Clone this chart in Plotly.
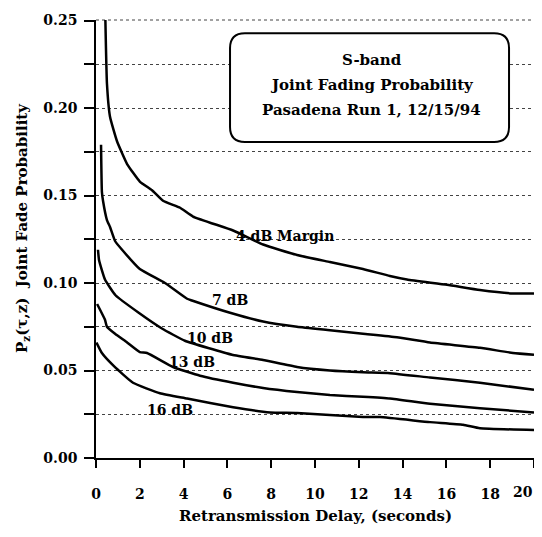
import plotly.graph_objects as go

# ---- data ----
x_4db = [0.41, 0.50, 0.64, 0.96, 1.42, 2.0, 2.56, 3.06, 3.84, 4.43, 6.26, 7.63, 9.18, 10.68, 12.19, 13.42, 14.2, 16.03, 17.53, 19.04, 20.0]
y_4db = [0.262, 0.214, 0.195, 0.181, 0.168, 0.158, 0.153, 0.147, 0.143, 0.138, 0.130, 0.122, 0.116, 0.112, 0.108, 0.104, 0.102, 0.099, 0.096, 0.094, 0.094]

x_7db = [0.23, 0.27, 0.32, 0.50, 0.64, 0.87, 1.19, 2.0, 3.15, 4.16, 4.38, 6.12, 7.63, 9.18, 10.68, 12.19, 13.74, 15.25, 17.53, 19.04, 20.0]
y_7db = [0.179, 0.152, 0.147, 0.136, 0.132, 0.124, 0.119, 0.108, 0.100, 0.091, 0.090, 0.083, 0.078, 0.075, 0.073, 0.071, 0.069, 0.066, 0.063, 0.060, 0.059]

x_10db = [0.09, 0.14, 0.41, 0.89, 1.95, 3.01, 4.06, 6.21, 7.63, 9.18, 10.68, 12.19, 13.42, 15.25, 17.53, 20.0]
y_10db = [0.119, 0.113, 0.102, 0.093, 0.083, 0.074, 0.067, 0.059, 0.056, 0.052, 0.050, 0.049, 0.0485, 0.046, 0.043, 0.039]

x_13db = [0.05, 0.41, 0.50, 0.87, 1.42, 2.0, 2.33, 3.52, 4.75, 6.26, 7.63, 9.18, 10.68, 12.19, 13.42, 15.25, 17.53, 20.0]
y_13db = [0.088, 0.079, 0.075, 0.071, 0.066, 0.0605, 0.060, 0.052, 0.047, 0.043, 0.040, 0.0377, 0.036, 0.035, 0.034, 0.031, 0.0285, 0.026]

x_16db = [0.02, 0.27, 0.82, 1.69, 2.92, 4.16, 6.26, 7.95, 9.18, 12.19, 12.97, 15.25, 16.76, 17.53, 20.0]
y_16db = [0.066, 0.060, 0.0525, 0.043, 0.037, 0.034, 0.029, 0.026, 0.0257, 0.0234, 0.0234, 0.0205, 0.019, 0.017, 0.016]

series = [
    ("4 dB Margin", x_4db, y_4db),
    ("7 dB", x_7db, y_7db),
    ("10 dB", x_10db, y_10db),
    ("13 dB", x_13db, y_13db),
    ("16 dB", x_16db, y_16db),
]

# curve label anchor positions (data units)
label_x = [8.63, 6.12, 5.21, 4.38, 3.38]
label_y = [0.1267, 0.0902, 0.0685, 0.0548, 0.0274]

x_ticks = [0, 2, 4, 6, 8, 10, 12, 14, 16, 18, 20]
x_tick_text = ["0", "2", "4", "6", "8", "10", "12", "14", "16", "18", ""]
last_x_tick = "20"
y_ticks = [0.00, 0.05, 0.10, 0.15, 0.20, 0.25]
y_tick_text = ["0.00", "0.05", "0.10", "0.15", "0.20", "0.25"]

box_lines = ["S-band", "Joint Fading Probability", "Pasadena Run 1, 12/15/94"]

FONT = "DejaVu Serif"

fig = go.Figure()
for name, xs, ys in series:
    fig.add_trace(go.Scatter(x=xs, y=ys, mode="lines", name=name,
                             line=dict(color="black", width=2.5, shape="spline", smoothing=0.4),
                             showlegend=False))

for (name, _, _), lx, ly in zip(series, label_x, label_y):
    fig.add_annotation(x=lx, y=ly, xref="x", yref="y", text=name, showarrow=False,
                       font=dict(family=FONT, size=14, color="black", weight="bold"))

# last x tick label drawn as an annotation, kept inside the visible page
fig.add_annotation(x=x_ticks[-1], y=-0.078, xref="x", yref="paper", text=last_x_tick,
                   showarrow=False, xanchor="right", xshift=1, yanchor="middle",
                   font=dict(family=FONT, size=14, color="black", weight="bold"))

# dotted top border line (0.25 level)
fig.add_shape(type="line", xref="paper", yref="paper", x0=0, x1=1, y0=1, y1=1,
              line=dict(color="#444", width=1, dash="dot"), layer="below")

# rounded box (paper coordinates; plot area is square)
x0, x1, y0, y1, r = 0.306, 0.943, 0.7215, 0.970, 0.034
path = (f"M {x0+r},{y0} L {x1-r},{y0} Q {x1},{y0} {x1},{y0+r} "
        f"L {x1},{y1-r} Q {x1},{y1} {x1-r},{y1} L {x0+r},{y1} "
        f"Q {x0},{y1} {x0},{y1-r} L {x0},{y0+r} Q {x0},{y0} {x0+r},{y0} Z")
fig.add_shape(type="path", path=path, xref="paper", yref="paper",
              line=dict(color="black", width=2), fillcolor="white", layer="above")

for i, t in enumerate(box_lines):
    fig.add_annotation(x=0.63, y=0.908 - i * 0.057, xref="paper", yref="paper", text=t,
                       showarrow=False, font=dict(family=FONT, size=15, color="black", weight="bold"),
                       xanchor="center", yanchor="middle")

# axis titles
fig.add_annotation(x=-0.169, y=0.525, xref="paper", yref="paper",
                   text="P<sub>z</sub>(τ,z)  Joint Fade Probability", textangle=-90,
                   showarrow=False, font=dict(family=FONT, size=15, color="black", weight="bold"),
                   xanchor="center", yanchor="middle")
fig.add_annotation(x=0.5, y=-0.1324, xref="paper", yref="paper",
                   text="Retransmission Delay, (seconds)", showarrow=False,
                   font=dict(family=FONT, size=15, color="black", weight="bold"),
                   xanchor="center", yanchor="middle")

# page body has an 8px margin: figure is sized/offset to compensate
fig.update_layout(
    width=534, height=517,
    margin=dict(l=88, r=8, t=12, b=67, autoexpand=False),
    paper_bgcolor="white", plot_bgcolor="white",
    font=dict(family=FONT, color="black"),
    xaxis=dict(range=[0, 20], tickvals=x_ticks, ticktext=x_tick_text, ticks="outside",
               ticklen=8, tickwidth=1.5,
               tickcolor="black", showline=True, linecolor="black", linewidth=2,
               showgrid=False, zeroline=False, ticklabelstandoff=14, automargin=False,
               ticklabeloverflow="allow",
               tickfont=dict(family=FONT, size=14, color="black", weight="bold")),
    yaxis=dict(range=[0, 0.2503], tickvals=y_ticks, ticktext=y_tick_text, ticks="outside",
               ticklen=10, tickwidth=1.5, tickcolor="black", showline=True, linecolor="black",
               linewidth=1.5, showgrid=True, gridcolor="#444", griddash="dot", gridwidth=1,
               zeroline=False, ticklabelstandoff=4, automargin=False,
               ticklabeloverflow="allow",
               tickfont=dict(family=FONT, size=14, color="black", weight="bold"),
               minor=dict(dtick=0.025, tick0=0, ticks="outside", ticklen=10, tickwidth=1.5,
                          tickcolor="black", showgrid=True, gridcolor="#444", griddash="dot",
                          gridwidth=1)),
)

fig.write_html("out.html")
